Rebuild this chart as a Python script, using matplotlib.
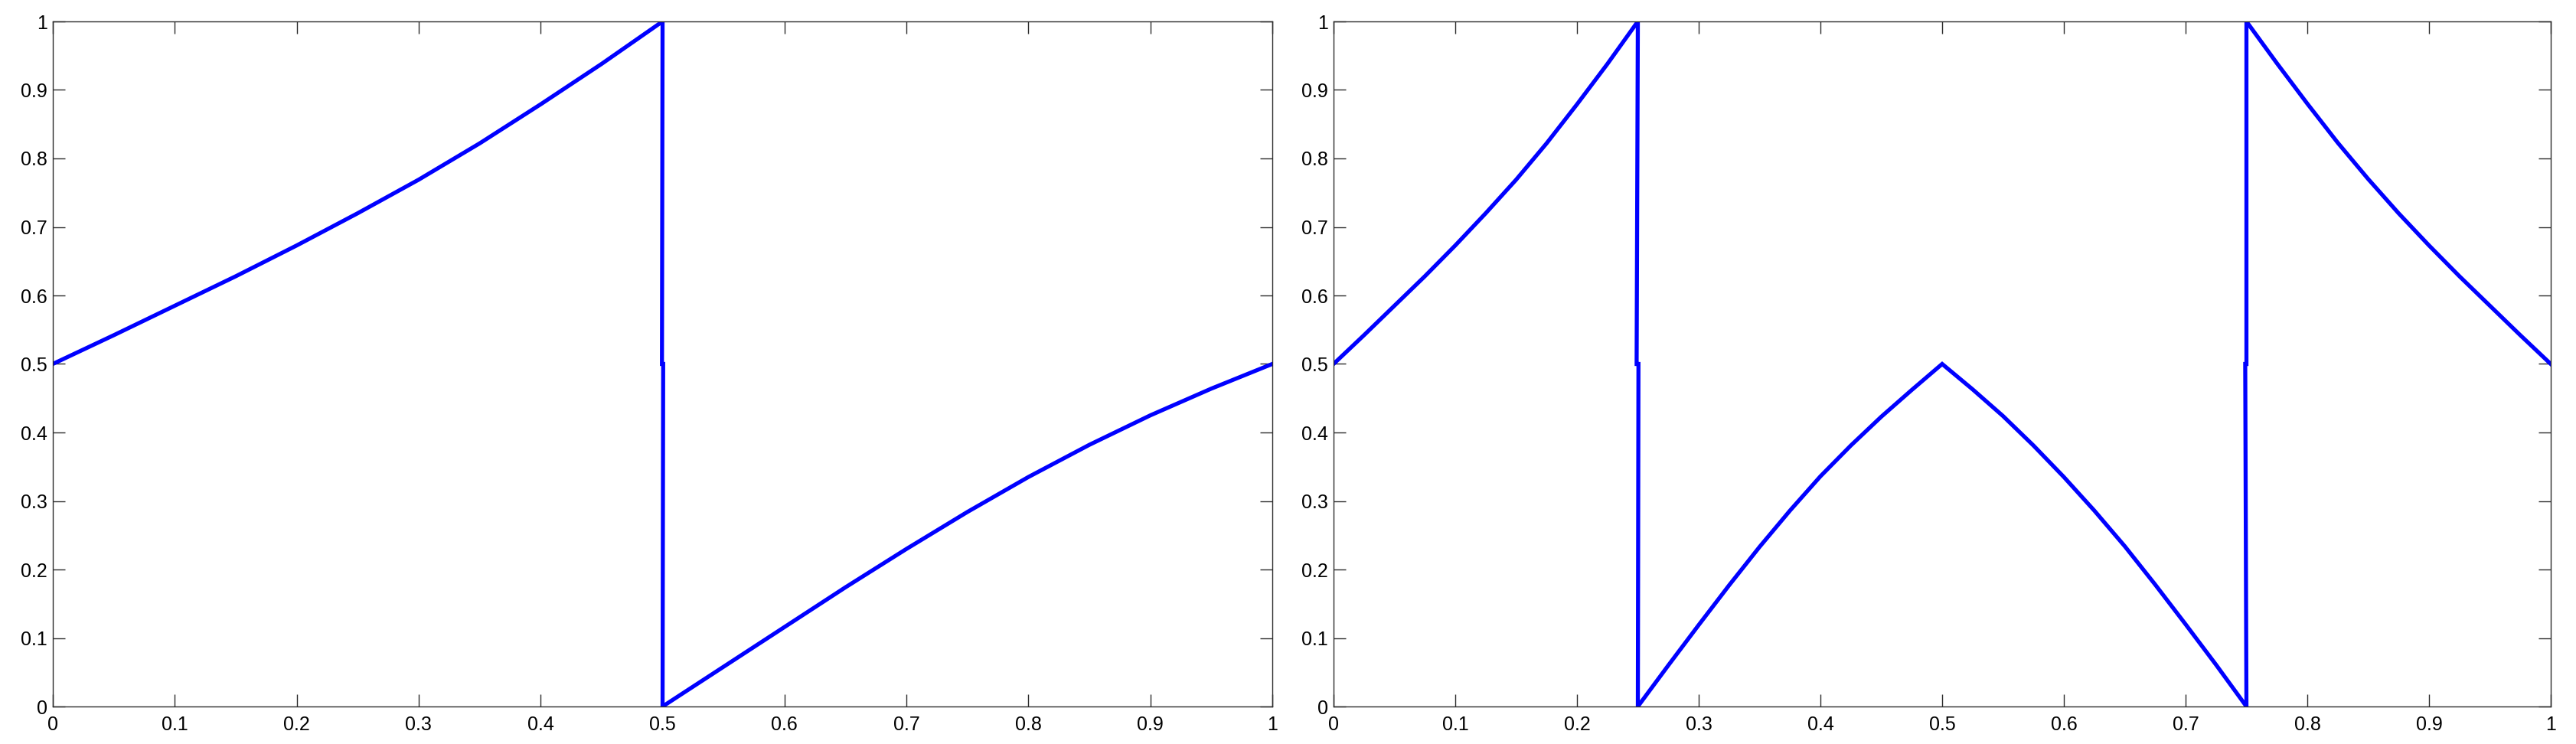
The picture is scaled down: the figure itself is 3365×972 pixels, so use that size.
import matplotlib
matplotlib.use("Agg")
import matplotlib.pyplot as plt
import numpy as np

plt.rcParams['font.family'] = ['Liberation Sans', 'DejaVu Sans']

# ---- data ----
tick_vals = [0, 0.1, 0.2, 0.3, 0.4, 0.5, 0.6, 0.7, 0.8, 0.9, 1]
tick_labels = ['0', '0.1', '0.2', '0.3', '0.4', '0.5', '0.6', '0.7', '0.8', '0.9', '1']

# left panel
left_x1 = [0.00, 0.05, 0.10, 0.15, 0.20, 0.25, 0.30, 0.35, 0.40, 0.45, 0.50]
left_y1 = [0.500, 0.542, 0.585, 0.628, 0.673, 0.720, 0.769, 0.822, 0.879, 0.938, 1.000]
left_x2 = [0.50, 0.55, 0.60, 0.65, 0.70, 0.75, 0.80, 0.85, 0.90, 0.95, 1.00]
left_y2 = [0.000, 0.058, 0.116, 0.174, 0.230, 0.284, 0.335, 0.382, 0.425, 0.464, 0.500]

# right panel
right_xA = [0.000, 0.025, 0.050, 0.075, 0.100, 0.125, 0.150, 0.175, 0.200, 0.225, 0.250]
right_yA = [0.500, 0.542, 0.585, 0.628, 0.673, 0.720, 0.769, 0.822, 0.879, 0.938, 1.000]
right_xB = [0.250, 0.275, 0.300, 0.325, 0.350, 0.375, 0.400, 0.425, 0.450, 0.475, 0.500]
right_yB = [0.000, 0.060, 0.119, 0.177, 0.233, 0.286, 0.336, 0.381, 0.423, 0.462, 0.500]
right_xC = [0.500, 0.525, 0.550, 0.575, 0.600, 0.625, 0.650, 0.675, 0.700, 0.725, 0.750]
right_yC = [0.500, 0.463, 0.424, 0.381, 0.335, 0.286, 0.234, 0.178, 0.120, 0.061, 0.000]
right_xD = [0.750, 0.775, 0.800, 0.825, 0.850, 0.875, 0.900, 0.925, 0.950, 0.975, 1.000]
right_yD = [1.000, 0.939, 0.880, 0.823, 0.770, 0.720, 0.673, 0.628, 0.585, 0.542, 0.500]

jump_eps = 0.001  # small horizontal offset seen at mid-height of jumps

W, H = 3366, 972
fig = plt.figure(figsize=(W / 100, H / 100), dpi=100)
fig.patch.set_facecolor('white')

ax1 = fig.add_axes([69 / W, 1 - 923 / H, (1662 - 69) / W, (923 - 28) / H])
ax2 = fig.add_axes([1742 / W, 1 - 923 / H, (3332 - 1742) / W, (923 - 28) / H])

blue = '#0000FF'
lw = 3.8

# left series with jump at 0.5
lx = list(left_x1) + [left_x1[-1] - jump_eps / 2, left_x2[0] + jump_eps / 2] + list(left_x2)
ly = list(left_y1) + [0.5, 0.5] + list(left_y2)
ax1.plot(lx, ly, color=blue, lw=lw, solid_joinstyle='miter')

# right series with jumps at 0.25 and 0.75
rx = (list(right_xA) + [right_xA[-1] - jump_eps, right_xB[0] + jump_eps / 2] + list(right_xB)
      + list(right_xC[1:]) + [right_xC[-1] - jump_eps, right_xD[0]] + list(right_xD))
ry = (list(right_yA) + [0.5, 0.5] + list(right_yB)
      + list(right_yC[1:]) + [0.5, 0.5] + list(right_yD))
ax2.plot(rx, ry, color=blue, lw=lw, solid_joinstyle='miter')

spine_c = '#2b2b2b'
for ax in (ax1, ax2):
    ax.set_xlim(0, 1)
    ax.set_ylim(0, 1)
    ax.set_xticks(tick_vals)
    ax.set_xticklabels(tick_labels)
    ax.set_yticks(tick_vals)
    ax.set_yticklabels(tick_labels)
    ax.tick_params(axis='both', direction='in', length=11.5, width=1.0,
                   color=spine_c, labelsize=18, top=True, right=True,
                   labelcolor='black')
    ax.tick_params(axis='x', pad=8.5)
    ax.tick_params(axis='y', pad=5)
    for s in ax.spines.values():
        s.set_color(spine_c)
        s.set_linewidth(1.0)

fig.savefig('out.png', dpi=100, facecolor='white')
